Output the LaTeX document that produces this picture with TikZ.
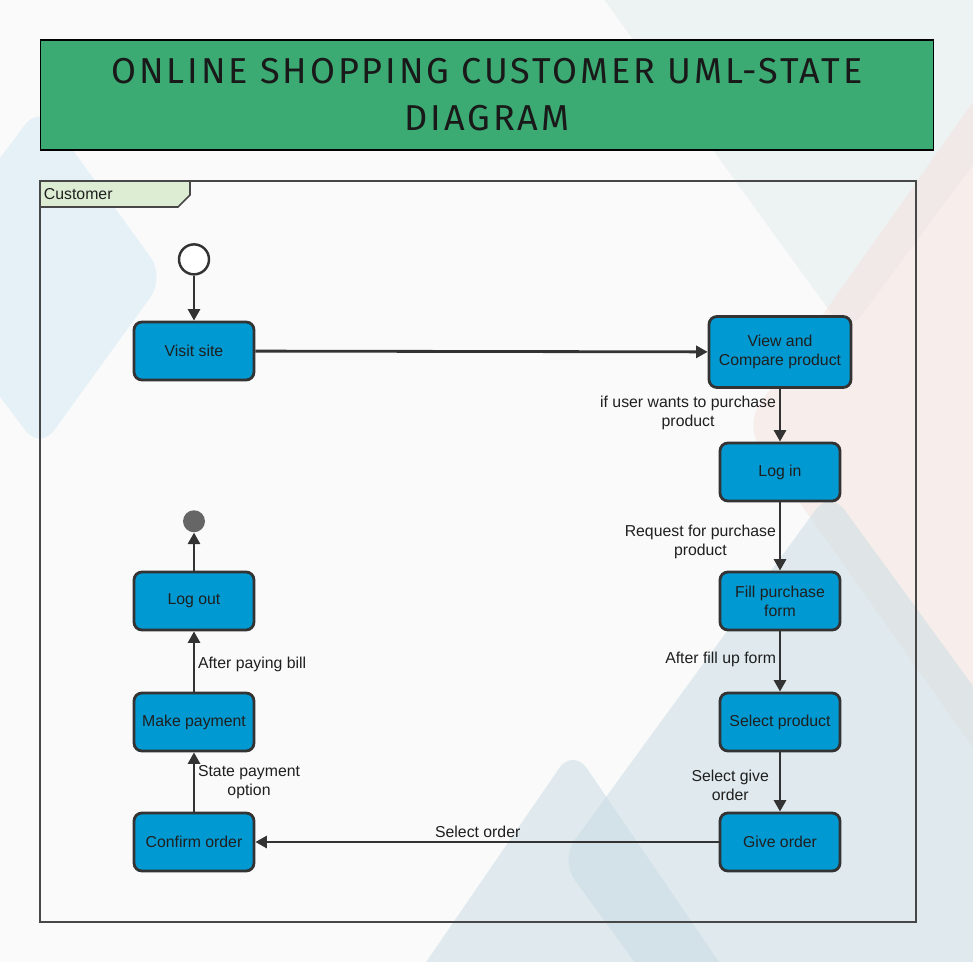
\documentclass[tikz,border=0pt]{standalone}
\usepackage{fontspec}
\setmainfont{Liberation Sans}
\newfontfamily\titlefont[LetterSpace=8]{Fira Sans}
\usetikzlibrary{arrows.meta, positioning}
\definecolor{cBack}{RGB}{250,250,250}
\definecolor{cTitle}{RGB}{59,170,115}
\definecolor{cState}{RGB}{0,153,210}
\definecolor{cEdge}{RGB}{51,51,51}
\definecolor{cTab}{RGB}{220,237,211}
\definecolor{cFinal}{RGB}{102,102,102}
\definecolor{cMist}{RGB}{200,220,228}
\definecolor{cRose}{RGB}{246,226,222}
\definecolor{cHaze}{RGB}{226,236,236}
\definecolor{cSky}{RGB}{210,234,246}
\tikzset{
	stbox/.style   ={rectangle, rounded corners=4.5pt, draw=cEdge, line width=1.6pt, fill=cState, minimum width=2.4cm, minimum height=1.16cm, align=center, text=black!88, font=\fontsize{9}{10.8}\selectfont},
	initst/.style  ={circle, draw=cEdge, line width=1.4pt, fill=white, minimum size=0.6cm, inner sep=0pt},
	finalst/.style ={circle, fill=cFinal, minimum size=0.44cm, inner sep=0pt},
	trans/.style   ={-{Triangle[length=2.3mm, width=2.4mm]}, line width=1.6pt, draw=cEdge},
	lbl/.style     ={font=\fontsize{9}{10.8}\selectfont, align=center, text=black!88, inner sep=1.5pt},
	blob/.style    ={rounded corners=14pt, fill opacity=0.5},
}

\begin{document}
\begin{tikzpicture}[x=0.02cm, y=-0.02cm,
					ttl/.style={rectangle, draw=black, line width=0.6pt, fill=cTitle, minimum width=17.88cm, minimum height=2.2cm, align=center, font=\titlefont\fontsize{20.5}{26.7}\selectfont, text=black!90},
					frame/.style={draw=cEdge!90, line width=1.1pt}]
	\useasboundingbox (0,0) rectangle (973,962);
	\fill[cBack] (0,0) rectangle (973,962);
	% background shapes
	\begin{scope}
		\clip (0,0) rectangle (973,962);
		\fill[blob, cSky]  (-90,277) -- (40,105) -- (165,277) -- (40,450) -- cycle;
		\fill[blob, cHaze] (590,-20) -- (847,335) -- (1110,-20) -- cycle;
		\fill[blob, cRose] (985,85) -- (745,425) -- (985,765) -- (1230,425) -- cycle;
		\fill[blob, cMist] (830,490) -- (560,860) -- (830,1230) -- (1100,860) -- cycle;
		\fill[blob, cMist] (573,748) -- (400,1000) -- (745,1000) -- cycle;
	\end{scope}

	\node[ttl] (title) at (487,95) {ONLINE SHOPPING CUSTOMER UML-STATE\\DIAGRAM};

	% customer frame
	\draw[frame] (40,181) rectangle (916,922);
	\draw[frame, fill=cTab, line width=0.9pt] (40,181) -- (190,181) -- (190,195) -- (178,207) -- (40,207) -- cycle;
	\node[lbl, anchor=west] (cust) at (41,194) {Customer};

	% states
	\node[stbox] (visit) at (194,351) {Visit site};
	\node[initst, above=0.9cm of visit] (init) {};
	\node[stbox, minimum width=2.84cm, minimum height=1.42cm] (view) at (780,352) {View and\\Compare product};
	\node[stbox] (login) at (780,472) {Log in};
	\node[stbox] (fill) at (780,601) {Fill purchase\\form};
	\node[stbox] (select) at (780,722) {Select product};
	\node[stbox] (give) at (780,842) {Give order};
	\node[stbox] (confirm) at (194,842) {Confirm order};
	\node[stbox] (pay) at (194,722) {Make payment};
	\node[stbox] (logout) at (194,601) {Log out};
	\node[finalst, above=0.76cm of logout] (final) {};

	% transitions
	\draw[trans] (init) -- (visit);
	\draw[trans] (visit) -- (view);
	\draw[trans] (view) -- node[lbl, left, yshift=1.5pt] {if user wants to purchase\\product} (login);
	\draw[trans] (login) -- node[lbl, left, yshift=-3pt] {Request for purchase\\product} (fill);
	\draw[trans] (fill) -- node[lbl, left, yshift=1pt] {After fill up form} (select);
	\draw[trans] (select) -- node[lbl, left, xshift=-4pt, yshift=-2pt] {Select give\\order} (give);
	\draw[trans] (give) -- node[lbl, above, pos=0.52] {Select order} (confirm);
	\draw[trans] (confirm) -- node[lbl, right] {State payment\\option} (pay);
	\draw[trans] (pay) -- node[lbl, right, yshift=-1.5pt] {After paying bill} (logout);
	\draw[trans] (logout) -- (final);
\end{tikzpicture}
\end{document}
